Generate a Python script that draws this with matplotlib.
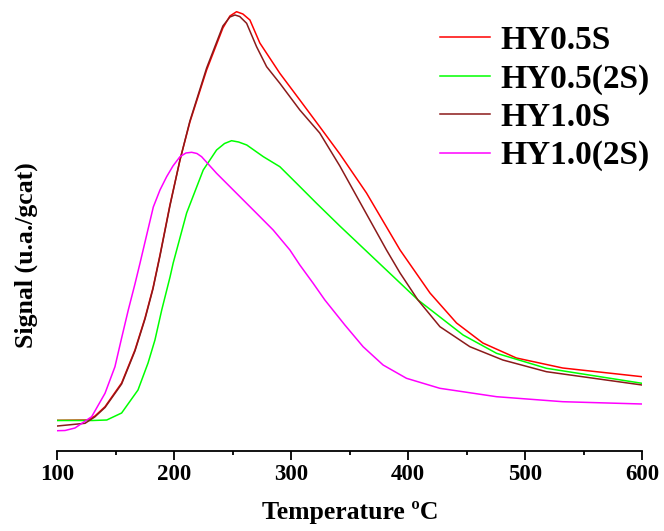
import matplotlib
matplotlib.use("Agg")
import matplotlib.pyplot as plt
from matplotlib.ticker import MultipleLocator

# Data (signal in arbitrary units)
t_hy05s = [100, 126.2, 132.2, 140.8, 155.0, 166.4, 175.0, 181.8, 187.8, 196.3, 204.9, 213.4, 227.7, 241.6,
           247.6, 253.3, 258.7, 264.7, 273.2, 290.3, 307.4, 324.4, 341.6, 364.4, 393.1, 418.7, 441.4, 463.9,
           492.6, 532.2, 600]
s_hy05s = [30.7, 31, 35, 44.3, 68, 101, 133, 163, 196, 246, 291, 329, 381, 423,
           435, 439.3, 437, 431, 408, 377.7, 351, 324.3, 297, 258, 201, 158, 128, 108,
           93, 83, 74.3]

t_hy052s = [100, 130, 142.3, 155, 169, 177.6, 183.5, 189.3, 196.4, 199.1, 210.6, 224.8, 236.2, 243, 249,
            255, 262, 276.2, 290.3, 304.6, 321.7, 341.6, 363.3, 408.5, 447, 475.6, 518.3, 600]
s_hy052s = [30.5, 30.5, 31, 38, 61, 88, 111, 141, 174, 188, 238, 281, 301, 307.5, 310.3,
            309, 306, 294.3, 284.3, 267.7, 247.7, 225, 201, 151, 116, 97.7, 82.7, 67.7]

t_hy10s = [100, 123.7, 132, 140.8, 155, 166.4, 175, 181.8, 187.8, 196.3, 204.9, 213.4, 227.7, 241.6, 247.6,
           251.9, 256, 261.9, 270.4, 279, 290.3, 307.4, 324.4, 341.6, 364.4, 381.5, 393.1, 408.4, 427.2,
           452.8, 481, 518.3, 600]
s_hy10s = [25, 27.7, 34, 43.5, 67, 100, 132, 162, 195, 245, 291, 330, 383, 425, 434,
           436, 434.5, 427.7, 404.3, 384.3, 367.7, 341, 318, 285, 237, 201, 178, 151, 124.3,
           104.3, 91, 79.3, 66]

t_hy102s = [100, 106.6, 115.1, 129.4, 140.8, 149.3, 155.0, 160.7, 166.4, 170.7, 175.0, 182.1, 187.8, 193.5,
            198.9, 204.9, 210.0, 214.9, 219.4, 223.4, 236.2, 256.2, 270.4, 284.6, 298.9, 307.4, 318.8,
            328.8, 345.9, 361.5, 378.6, 398.6, 427.1, 475.6, 532.2, 600]
s_hy102s = [20.3, 20.5, 23, 34.3, 57.7, 84.3, 113, 141, 167, 187.7, 209, 244, 261, 274.3,
            285, 294.3, 298, 298.7, 297.5, 294.3, 277.7, 254.3, 237.7, 221, 201, 186, 167.7,
            151, 126, 104.3, 86, 72.7, 62.7, 54.3, 49.3, 47]

series = [
    ("HY0.5S", t_hy05s, s_hy05s, "#ff0000"),
    ("HY0.5(2S)", t_hy052s, s_hy052s, "#00ff00"),
    ("HY1.0S", t_hy10s, s_hy10s, "#8b1a1a"),
    ("HY1.0(2S)", t_hy102s, s_hy102s, "#ff00ff"),
]

W, H = 664, 531
fig = plt.figure(figsize=(W / 100, H / 100), dpi=100)
ax = fig.add_axes([57.3 / W, (H - 451) / H, (642 - 57.3) / W, 451 / H])

for name, t, s, c in series:
    ax.plot(t, s, color=c, lw=1.1, label=name)

ax.set_xlim(100, 600)
ax.set_ylim(0, 451)
for sp in ["top", "right", "left"]:
    ax.spines[sp].set_visible(False)
ax.spines["bottom"].set_linewidth(1.3)
ax.set_yticks([])
ax.xaxis.set_major_locator(MultipleLocator(100))
ax.xaxis.set_minor_locator(MultipleLocator(50))
ax.tick_params(axis="x", which="major", length=6.5, width=1.3, pad=3)
ax.tick_params(axis="x", which="minor", length=3, width=1.3)
for lab in ax.get_xticklabels():
    lab.set_fontfamily("Liberation Serif")
    lab.set_fontweight("bold")
    lab.set_fontsize(16.5)

fig.text(350 / W, 1 - 512 / H, "Temperature ºC", ha="center", va="center",
         fontfamily="Liberation Serif", fontweight="bold", fontsize=18.5)
fig.text(26.5 / W, 1 - 255 / H, "Signal (u.a./gcat)", ha="center", va="center",
         rotation=90, fontfamily="Liberation Serif", fontweight="bold", fontsize=18.5)

leg = ax.legend(loc="upper left", bbox_to_anchor=((443 - 57.3) / (642 - 57.3) - 0.005, 1.0 - 25 / 451),
                frameon=False, handlelength=1.5, handletextpad=0.3, labelspacing=0.22,
                borderaxespad=0, borderpad=0,
                prop={"family": "Liberation Serif", "weight": "bold", "size": 24})

fig.savefig("out.png", dpi=100)
